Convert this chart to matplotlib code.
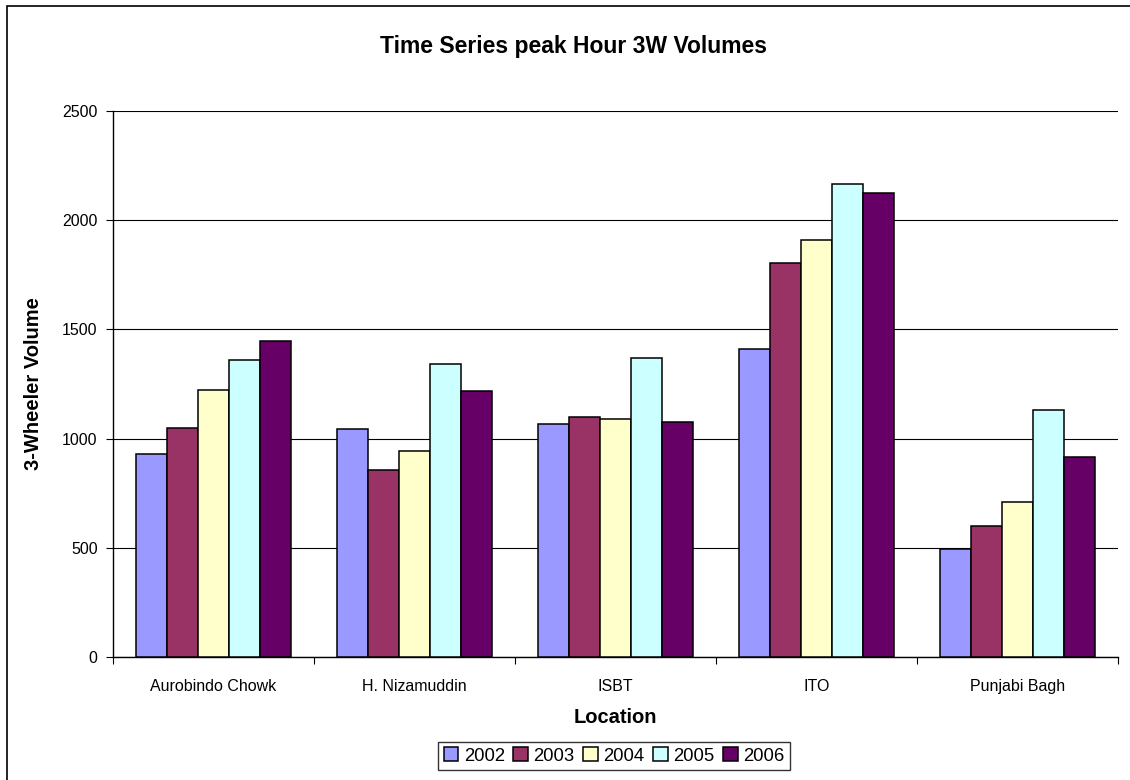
import matplotlib
matplotlib.use("Agg")
import matplotlib.pyplot as plt
from matplotlib.patches import Rectangle
import numpy as np

plt.rcParams['font.family'] = ['Liberation Sans', 'DejaVu Sans']

locations = ["Aurobindo Chowk", "H. Nizamuddin", "ISBT", "ITO", "Punjabi Bagh"]
years = ["2002", "2003", "2004", "2005", "2006"]
v2002 = [929, 1044, 1068, 1408, 494]
v2003 = [1050, 858, 1097, 1802, 600]
v2004 = [1224, 945, 1088, 1909, 709]
v2005 = [1360, 1343, 1367, 2168, 1129]
v2006 = [1448, 1216, 1075, 2124, 915]
series = [v2002, v2003, v2004, v2005, v2006]
colors = ["#9999ff", "#993366", "#ffffcc", "#ccffff", "#660066"]
yticks = [0, 500, 1000, 1500, 2000, 2500]

W, H = 1130, 780
fig = plt.figure(figsize=(W / 100, H / 100), dpi=100)
fig.patch.set_facecolor("white")

# outer chart border
fig.add_artist(Rectangle((7 / W, -0.02), 1.2, 1 - 6 / H + 0.02,
                         transform=fig.transFigure, fill=False,
                         edgecolor="black", linewidth=1.2))

ax = fig.add_axes([113 / W, (H - 657) / H, (1118 - 113) / W, (657 - 111) / H])
x = np.arange(len(locations))
bw = 1 / 6.5
for i, (vals, c, yr) in enumerate(zip(series, colors, years)):
    ax.bar(x + (i - 2) * bw, vals, width=bw, color=c, edgecolor="black",
           linewidth=1.1, label=yr, zorder=3)

ax.set_xlim(-0.5, len(locations) - 0.5)
ax.set_ylim(0, 2500)
ax.set_yticks(yticks)
ax.set_yticklabels([str(t) for t in yticks], fontsize=11.5)
ax.yaxis.grid(True, color="black", linewidth=0.8, zorder=0)
ax.set_axisbelow(True)

ax.set_xticks(np.arange(-0.5, len(locations), 1.0))
ax.set_xticklabels([])
ax.set_xticks(x, minor=True)
ax.set_xticklabels(locations, minor=True, fontsize=11.5)
ax.tick_params(axis="x", which="minor", length=0, pad=16)
ax.tick_params(axis="x", which="major", length=5, direction="out", width=0.8)
ax.tick_params(axis="y", length=5, direction="out", width=0.8, pad=6)

for s in ["top", "right"]:
    ax.spines[s].set_visible(False)
ax.spines["left"].set_linewidth(1.0)
ax.spines["bottom"].set_linewidth(1.0)

ax.set_xlabel("Location", fontsize=14.5, fontweight="bold", labelpad=10)
ax.set_ylabel("3-Wheeler Volume", fontsize=14.5, fontweight="bold", labelpad=14)

fig.text(574 / W, 1 - 47 / H, "Time Series peak Hour 3W Volumes",
         fontsize=16.5, fontweight="bold", ha="center", va="center")

leg = fig.legend(loc="center", bbox_to_anchor=(614 / W, 1 - 756 / H), ncol=5,
                 fontsize=13.3, frameon=True, fancybox=False, edgecolor="black",
                 handlelength=0.8, handleheight=0.8, handletextpad=0.3,
                 columnspacing=0.45, borderpad=0.3, borderaxespad=0)
leg.get_frame().set_linewidth(1.0)

fig.savefig("out.png", dpi=100)
